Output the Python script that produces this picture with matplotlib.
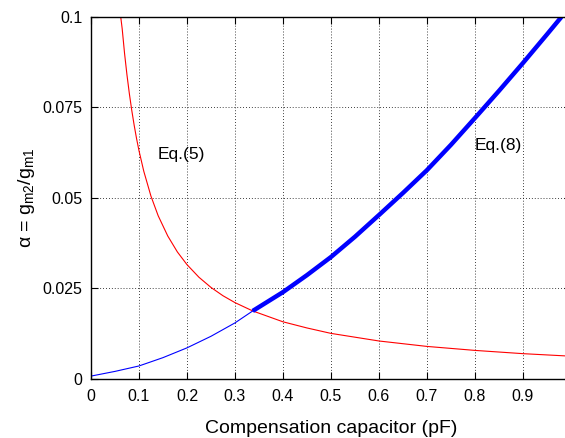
import matplotlib
matplotlib.use("Agg")
import numpy as np
import matplotlib.pyplot as plt

# --- data ---
# Eq.(5): red curve
red_x = [0.062, 0.065, 0.07, 0.075, 0.08, 0.085, 0.09, 0.095, 0.1, 0.11, 0.125, 0.14,
         0.16, 0.18, 0.2, 0.225, 0.25, 0.275, 0.3, 0.337, 0.4, 0.45, 0.5, 0.6, 0.7,
         0.8, 0.9, 1.0]
red_y = [0.1, 0.0968, 0.0899, 0.0840, 0.0788, 0.0742, 0.0701, 0.0664, 0.0631, 0.0574,
         0.0505, 0.0451, 0.0395, 0.0351, 0.0316, 0.0281, 0.0253, 0.0230, 0.0211, 0.0188,
         0.0158, 0.0141, 0.0126, 0.0105, 0.0090, 0.0079, 0.0070, 0.0063]

# Eq.(8): blue curve (thin below the crossing, thick above)
blue_x = [0.0, 0.05, 0.1, 0.15, 0.2, 0.25, 0.3, 0.337, 0.4, 0.45, 0.5, 0.55, 0.6,
          0.65, 0.7, 0.75, 0.8, 0.85, 0.9, 0.95, 0.98]
blue_y = [0.0008, 0.0021, 0.0036, 0.0059, 0.0086, 0.0118, 0.0155, 0.0188, 0.0240,
          0.0287, 0.0337, 0.0393, 0.0453, 0.0514, 0.0577, 0.0647, 0.0721, 0.0796,
          0.0873, 0.0952, 0.1000]
x_cross = 0.337

x_ticks = [0, 0.1, 0.2, 0.3, 0.4, 0.5, 0.6, 0.7, 0.8, 0.9, 1.0]
x_tick_labels = ["0", "0.1", "0.2", "0.3", "0.4", "0.5", "0.6", "0.7", "0.8", "0.9", "1"]
y_ticks = [0, 0.025, 0.05, 0.075, 0.1]
y_tick_labels = ["0", "0.025", "0.05", "0.075", "0.1"]

plt.rcParams['font.family'] = ['Liberation Sans', 'DejaVu Sans']
plt.rcParams['mathtext.fontset'] = 'custom'
plt.rcParams['mathtext.rm'] = 'Liberation Sans'
plt.rcParams['mathtext.it'] = 'Liberation Sans'

fig = plt.figure(figsize=(5.65, 4.38), dpi=100)
# right edge sits just past the picture, as in the reference (x = 1 is cut off)
ax = fig.add_axes([0.161, 0.1347, 0.8496, 0.8265])

bx = np.array(blue_x)
by = np.array(blue_y)
thin = bx <= x_cross
thick = bx >= x_cross

ax.plot(red_x, red_y, color='red', lw=0.8)
ax.plot(bx[thin], by[thin], color='blue', lw=0.8)
ax.plot(bx[thick], by[thick], color='blue', lw=3.2, solid_capstyle='butt')

ax.text(0.139, 0.0619, "Eq.(5)", fontsize=12.5, va='center',
        family=['Liberation Sans Narrow', 'Liberation Sans'])
ax.text(0.80, 0.0644, "Eq.(8)", fontsize=12.5, va='center',
        family=['Liberation Sans Narrow', 'Liberation Sans'])

ax.set_xlim(0, 1)
ax.set_ylim(0, 0.1)
ax.set_xticks(x_ticks)
ax.set_xticklabels(x_tick_labels)
ax.set_yticks(y_ticks)
ax.set_yticklabels(y_tick_labels)
ax.tick_params(direction='in', length=5, width=0.8, labelsize=11.5,
               top=True, right=True, pad=6)
ax.tick_params(axis='x', pad=7)
ax.grid(True, color='black', linestyle=(0, (1, 2.5)), linewidth=0.6)
for s in ax.spines.values():
    s.set_linewidth(1.0)

ax.set_xlabel("Compensation capacitor (pF)", fontsize=14, labelpad=12)
ax.set_ylabel(r"α = g$_{\mathrm{m2}}$/g$_{\mathrm{m1}}$", fontsize=14, labelpad=4)

fig.savefig("out.png", dpi=100)
